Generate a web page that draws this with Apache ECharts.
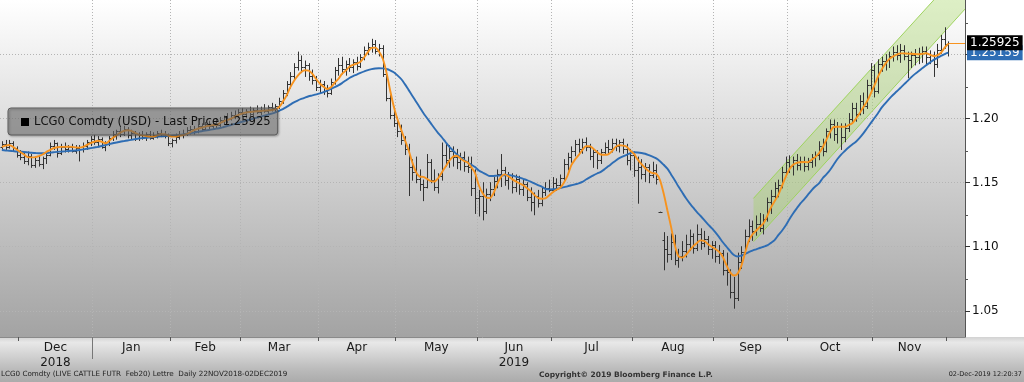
<!DOCTYPE html>
<html><head><meta charset="utf-8">
<script src="https://cdn.jsdelivr.net/npm/echarts@6/dist/echarts.min.js"></script>
<style>html,body{margin:0;padding:0;background:#fff}#c{width:1024px;height:382px}</style>
</head><body><div id="c"></div>
<script>
// ---- data ----
const monthNames = ['Nov','Dec','Jan','Feb','Mar','Apr','May','Jun','Jul','Aug','Sep','Oct','Nov','Dec'];
const monthYears = ['', '2018', '', '', '', '', '', '2019', '', '', '', '', '', ''];
const monthBars  = [5,20,21,19,21,21,22,20,22,22,20,23,20,1];
const slotCount = 261;

const opens = [
1.178,1.180,1.178,1.181,1.177,1.172,1.170,1.167,1.171,1.164,
1.168,1.165,1.169,1.172,1.179,1.181,1.173,1.178,1.176,1.178,
1.175,1.177,1.176,1.179,1.182,1.184,1.182,1.184,1.178,1.180,
1.185,1.188,1.190,1.188,1.192,1.187,1.189,1.185,1.187,1.186,
1.188,1.185,1.187,1.189,1.188,1.187,1.181,1.183,1.186,1.188,
1.189,1.191,1.192,1.190,1.194,1.192,1.196,1.194,1.197,1.195,
1.199,1.201,1.200,1.203,1.202,1.205,1.204,1.206,1.204,1.207,
1.205,1.207,1.206,1.209,1.208,1.210,1.214,1.220,1.227,1.233,
1.240,1.246,1.240,1.242,1.233,1.230,1.225,1.227,1.222,1.220,
1.229,1.238,1.242,1.239,1.243,1.240,1.244,1.241,1.248,1.254,
1.256,1.258,1.253,1.255,1.235,1.216,1.203,1.197,1.190,1.183,
1.176,1.162,1.158,1.153,1.149,1.147,1.166,1.152,1.147,1.155,
1.172,1.168,1.175,1.170,1.166,1.170,1.163,1.162,1.146,1.138,
1.140,1.128,1.141,1.145,1.151,1.157,1.160,1.152,1.156,1.147,
1.153,1.145,1.149,1.139,1.135,1.140,1.134,1.143,1.146,1.144,
1.150,1.148,1.154,1.165,1.170,1.175,1.180,1.176,1.182,1.178,
1.171,1.174,1.168,1.174,1.178,1.176,1.181,1.179,1.182,1.176,
1.168,1.172,1.160,1.162,1.157,1.162,1.156,1.160,1.127,1.105,
1.098,1.094,1.104,1.090,1.093,1.097,1.102,1.108,1.099,1.110,
1.103,1.106,1.098,1.101,1.093,1.095,1.082,1.080,1.065,1.060,
1.088,1.096,1.108,1.116,1.112,1.118,1.115,1.122,1.135,1.140,
1.146,1.148,1.158,1.166,1.163,1.168,1.164,1.167,1.163,1.166,
1.170,1.172,1.179,1.175,1.190,1.196,1.188,1.194,1.186,1.193,
1.200,1.208,1.204,1.214,1.210,1.226,1.238,1.222,1.243,1.245,
1.246,1.249,1.252,1.250,1.254,1.249,1.246,1.250,1.248,1.251,
1.253,1.248,1.250,1.243,1.254,1.262,1.258];

const highs = [
1.182,1.183,1.183,1.182,1.178,1.175,1.173,1.174,1.172,1.170,
1.171,1.170,1.173,1.181,1.183,1.181,1.180,1.181,1.179,1.180,
1.179,1.179,1.181,1.183,1.186,1.187,1.186,1.185,1.182,1.186,
1.190,1.191,1.193,1.194,1.193,1.191,1.190,1.189,1.190,1.189,
1.190,1.189,1.190,1.191,1.190,1.188,1.184,1.188,1.190,1.191,
1.193,1.194,1.194,1.195,1.196,1.197,1.198,1.199,1.200,1.201,
1.202,1.204,1.205,1.206,1.207,1.208,1.207,1.209,1.208,1.210,
1.209,1.211,1.210,1.212,1.211,1.216,1.222,1.229,1.236,1.243,
1.252,1.249,1.245,1.243,1.238,1.233,1.230,1.229,1.226,1.231,
1.240,1.247,1.248,1.245,1.247,1.246,1.248,1.250,1.256,1.259,
1.262,1.261,1.258,1.257,1.237,1.218,1.209,1.201,1.195,1.186,
1.180,1.168,1.170,1.160,1.152,1.172,1.168,1.160,1.157,1.181,
1.180,1.179,1.178,1.176,1.173,1.174,1.170,1.170,1.160,1.144,
1.150,1.145,1.150,1.154,1.160,1.172,1.162,1.158,1.157,1.156,
1.155,1.152,1.150,1.146,1.142,1.144,1.146,1.150,1.152,1.154,
1.153,1.156,1.168,1.173,1.178,1.183,1.184,1.184,1.185,1.180,
1.176,1.175,1.176,1.181,1.183,1.184,1.184,1.183,1.184,1.180,
1.176,1.174,1.170,1.168,1.165,1.164,1.166,1.164,1.127,1.111,
1.108,1.110,1.109,1.098,1.104,1.109,1.113,1.110,1.117,1.114,
1.112,1.108,1.104,1.104,1.101,1.097,1.095,1.082,1.076,1.095,
1.100,1.113,1.121,1.120,1.124,1.126,1.125,1.138,1.144,1.150,
1.152,1.162,1.170,1.171,1.170,1.172,1.170,1.170,1.169,1.172,
1.174,1.182,1.184,1.192,1.199,1.199,1.197,1.196,1.196,1.204,
1.212,1.212,1.218,1.220,1.230,1.243,1.242,1.246,1.248,1.250,
1.252,1.256,1.257,1.258,1.257,1.252,1.252,1.254,1.255,1.256,
1.256,1.253,1.252,1.258,1.265,1.271,1.260];

const lows = [
1.176,1.176,1.177,1.175,1.170,1.168,1.165,1.164,1.162,1.162,
1.163,1.161,1.165,1.171,1.176,1.170,1.172,1.174,1.174,1.174,
1.173,1.167,1.174,1.176,1.179,1.180,1.178,1.177,1.175,1.179,
1.183,1.184,1.186,1.187,1.185,1.184,1.183,1.183,1.184,1.183,
1.184,1.184,1.185,1.186,1.185,1.179,1.178,1.181,1.184,1.185,
1.187,1.188,1.188,1.189,1.190,1.191,1.192,1.192,1.193,1.194,
1.196,1.197,1.199,1.200,1.201,1.202,1.201,1.202,1.202,1.204,
1.203,1.205,1.204,1.206,1.205,1.208,1.212,1.218,1.224,1.230,
1.238,1.236,1.233,1.230,1.227,1.222,1.220,1.219,1.217,1.219,
1.227,1.234,1.235,1.234,1.237,1.236,1.238,1.240,1.246,1.250,
1.252,1.251,1.249,1.233,1.214,1.200,1.194,1.186,1.180,1.172,
1.140,1.152,1.150,1.144,1.136,1.146,1.150,1.144,1.142,1.152,
1.163,1.162,1.163,1.161,1.160,1.159,1.158,1.140,1.126,1.124,
1.121,1.126,1.136,1.140,1.146,1.147,1.148,1.145,1.142,1.143,
1.141,1.140,1.136,1.128,1.125,1.131,1.132,1.140,1.143,1.143,
1.144,1.146,1.152,1.160,1.166,1.171,1.172,1.173,1.175,1.168,
1.162,1.161,1.165,1.172,1.173,1.174,1.175,1.174,1.173,1.164,
1.160,1.155,1.134,1.153,1.151,1.150,1.154,1.149,1.127,1.082,
1.088,1.090,1.086,1.084,1.089,1.092,1.097,1.095,1.097,1.098,
1.100,1.094,1.091,1.088,1.087,1.078,1.070,1.060,1.052,1.058,
1.083,1.094,1.104,1.105,1.109,1.112,1.110,1.120,1.126,1.138,
1.139,1.146,1.156,1.158,1.156,1.160,1.160,1.159,1.160,1.162,
1.163,1.168,1.171,1.174,1.185,1.183,1.181,1.176,1.182,1.190,
1.197,1.198,1.203,1.204,1.208,1.222,1.217,1.220,1.237,1.238,
1.240,1.245,1.246,1.244,1.246,1.232,1.240,1.242,1.243,1.244,
1.242,1.243,1.233,1.240,1.251,1.255,1.249];

const closes = [
1.180,1.178,1.181,1.177,1.172,1.170,1.167,1.171,1.164,1.168,
1.165,1.169,1.172,1.179,1.181,1.173,1.178,1.176,1.178,1.175,
1.177,1.176,1.179,1.182,1.184,1.182,1.184,1.178,1.180,1.185,
1.188,1.190,1.188,1.192,1.187,1.189,1.185,1.187,1.186,1.188,
1.185,1.187,1.189,1.188,1.187,1.181,1.183,1.186,1.188,1.189,
1.191,1.192,1.190,1.194,1.192,1.196,1.194,1.197,1.195,1.199,
1.201,1.200,1.203,1.202,1.205,1.204,1.206,1.204,1.207,1.205,
1.207,1.206,1.209,1.208,1.210,1.214,1.220,1.227,1.233,1.240,
1.246,1.240,1.242,1.233,1.230,1.225,1.227,1.222,1.220,1.229,
1.238,1.242,1.239,1.243,1.240,1.244,1.241,1.248,1.254,1.256,
1.258,1.253,1.255,1.235,1.216,1.203,1.197,1.190,1.183,1.176,
1.162,1.158,1.153,1.149,1.147,1.166,1.152,1.147,1.155,1.172,
1.168,1.175,1.170,1.166,1.170,1.163,1.162,1.146,1.138,1.140,
1.128,1.141,1.145,1.151,1.157,1.160,1.152,1.156,1.147,1.153,
1.145,1.149,1.139,1.135,1.140,1.134,1.143,1.146,1.144,1.150,
1.148,1.154,1.165,1.170,1.175,1.180,1.176,1.182,1.178,1.171,
1.174,1.168,1.174,1.178,1.176,1.181,1.179,1.182,1.176,1.168,
1.172,1.160,1.162,1.157,1.162,1.156,1.160,1.153,1.127,1.098,
1.094,1.104,1.090,1.093,1.097,1.102,1.108,1.099,1.110,1.103,
1.106,1.098,1.101,1.093,1.095,1.082,1.080,1.065,1.060,1.088,
1.096,1.108,1.116,1.112,1.118,1.115,1.122,1.135,1.140,1.146,
1.148,1.158,1.166,1.163,1.168,1.164,1.167,1.163,1.166,1.170,
1.172,1.179,1.175,1.190,1.196,1.188,1.194,1.186,1.193,1.200,
1.208,1.204,1.214,1.210,1.226,1.238,1.222,1.243,1.245,1.246,
1.249,1.252,1.250,1.254,1.249,1.246,1.250,1.248,1.251,1.253,
1.248,1.250,1.243,1.254,1.262,1.258,1.25925];

// orange (short) moving average
const maShort = [
1.178,1.179,1.1795,1.178,1.176,1.174,1.172,1.170,1.1698,1.170,
1.1708,1.172,1.174,1.1755,1.177,1.1777,1.178,1.178,1.1781,1.178,
1.1776,1.1774,1.178,1.1795,1.181,1.182,1.1828,1.182,1.1808,1.1825,
1.185,1.187,1.189,1.1905,1.191,1.1905,1.189,1.1875,1.187,1.1865,
1.186,1.186,1.187,1.1878,1.1878,1.187,1.186,1.186,1.1868,1.1873,
1.188,1.1895,1.191,1.1922,1.193,1.1938,1.1945,1.195,1.1951,1.1965,
1.198,1.199,1.200,1.2015,1.203,1.204,1.2048,1.2052,1.2055,1.2058,
1.206,1.2063,1.2065,1.2068,1.2075,1.209,1.2133,1.218,1.2245,1.2295,
1.2335,1.2365,1.2378,1.2375,1.235,1.231,1.2275,1.225,1.2232,1.2245,
1.228,1.231,1.235,1.2375,1.2405,1.242,1.243,1.2445,1.248,1.252,
1.2553,1.2555,1.2525,1.247,1.2365,1.2224,1.2095,1.1995,1.1915,1.1835,
1.1755,1.166,1.1585,1.1548,1.1545,1.153,1.1512,1.151,1.1535,1.158,
1.1625,1.167,1.1703,1.171,1.169,1.167,1.1658,1.162,1.1575,1.148,
1.142,1.1385,1.138,1.142,1.149,1.1545,1.1565,1.155,1.1528,1.151,
1.1495,1.148,1.1458,1.1435,1.1405,1.1382,1.1375,1.1378,1.140,1.1425,
1.1445,1.146,1.150,1.1555,1.1635,1.168,1.1715,1.1755,1.1785,1.1785,
1.1765,1.174,1.172,1.1718,1.1722,1.1745,1.178,1.1793,1.179,1.1781,
1.175,1.1725,1.168,1.1645,1.1615,1.159,1.1575,1.157,1.152,1.1415,
1.1285,1.1155,1.1015,1.0925,1.0915,1.0935,1.097,1.1005,1.103,1.105,
1.1045,1.102,1.100,1.0982,1.096,1.092,1.0855,1.080,1.0775,1.079,
1.085,1.095,1.1045,1.1095,1.1125,1.1155,1.1183,1.124,1.1305,1.1355,
1.1405,1.1475,1.1545,1.1605,1.164,1.1655,1.166,1.1662,1.166,1.168,
1.170,1.173,1.1775,1.1835,1.1895,1.1935,1.1937,1.1937,1.1937,1.195,
1.1964,1.200,1.2042,1.209,1.2135,1.2195,1.226,1.233,1.2385,1.243,
1.2465,1.2485,1.250,1.251,1.251,1.2508,1.2507,1.2505,1.2503,1.2507,
1.2511,1.250,1.249,1.2495,1.2515,1.2555,1.2585];

// blue (long) moving average
const maLong = [
1.1755,1.1752,1.175,1.1747,1.1744,1.1742,1.174,1.1737,1.1734,1.1732,
1.173,1.173,1.1732,1.1735,1.1738,1.1741,1.1743,1.1745,1.1748,1.175,
1.1752,1.1755,1.176,1.1765,1.177,1.1775,1.178,1.1787,1.1794,1.1801,
1.1808,1.1814,1.182,1.1825,1.183,1.1835,1.184,1.1845,1.1848,1.185,
1.1853,1.1856,1.1859,1.1862,1.1864,1.1866,1.1868,1.187,1.1873,1.1877,
1.1882,1.1887,1.1892,1.1897,1.1902,1.1907,1.1912,1.1917,1.1922,1.1927,
1.1935,1.1943,1.1951,1.196,1.1968,1.1976,1.1984,1.1992,1.200,1.2008,
1.2016,1.2024,1.2032,1.204,1.205,1.2062,1.2075,1.2092,1.211,1.2128,
1.2142,1.2154,1.2165,1.2175,1.2182,1.219,1.2198,1.2208,1.222,1.2233,
1.2246,1.226,1.2278,1.2298,1.2318,1.2333,1.2345,1.2358,1.237,1.238,
1.2387,1.2392,1.2394,1.2393,1.2388,1.2378,1.2362,1.2338,1.231,1.227,
1.2225,1.218,1.2135,1.209,1.2045,1.2005,1.1965,1.1925,1.1888,1.1855,
1.1818,1.1782,1.1752,1.1722,1.1698,1.1677,1.1658,1.164,1.1622,1.1595,
1.158,1.1565,1.1552,1.1553,1.1555,1.1556,1.1558,1.156,1.1555,1.1548,
1.154,1.153,1.152,1.1508,1.1495,1.1482,1.147,1.1452,1.1448,1.1449,
1.1451,1.1458,1.1465,1.1472,1.148,1.1487,1.1495,1.1506,1.1525,1.1542,
1.1558,1.1572,1.1585,1.1605,1.1628,1.165,1.1672,1.1692,1.1705,1.1718,
1.1731,1.1738,1.1736,1.1732,1.1726,1.1715,1.1703,1.169,1.1668,1.164,
1.161,1.1565,1.152,1.147,1.1425,1.138,1.134,1.1305,1.127,1.124,
1.1208,1.1175,1.1145,1.1112,1.1075,1.1035,1.100,1.0965,1.0935,1.0924,
1.093,1.0943,1.0958,1.097,1.098,1.099,1.100,1.101,1.103,1.1052,
1.109,1.1125,1.1165,1.1215,1.126,1.130,1.1338,1.137,1.1405,1.144,
1.147,1.1495,1.1535,1.1565,1.1599,1.1642,1.1685,1.172,1.1748,1.1775,
1.1798,1.182,1.185,1.1885,1.1925,1.1965,1.2005,1.2045,1.2088,1.2122,
1.2155,1.2185,1.2212,1.224,1.2268,1.2295,1.2325,1.235,1.2372,1.2395,
1.2418,1.2438,1.2459,1.2475,1.249,1.2505,1.2516];

// trend channel (bar index, upper, lower)
const channelX = [203.3, 260.5];
const channelUpper = [1.1378, 1.3195];
const channelLower = [1.1039, 1.2856];

const lastPrice = 1.25925;
const lastLong = 1.25159;
const yLabelValues = [1.05, 1.10, 1.15, 1.20];
const yMajorTicks = [1.05, 1.10, 1.15, 1.20, 1.25];
const yMinorTicks = [1.075, 1.125, 1.175, 1.225, 1.275];
const yMin = 1.0295, yMax = 1.2927;
const legendName = 'LCG0 Comdty (USD) - Last Price 1.25925';
const footerLeft = 'LCG0 Comdty (LIVE CATTLE FUTR  Feb20) Lettre  Daily 22NOV2018-02DEC2019';
const footerMid = 'Copyright\u00A9 2019 Bloomberg Finance L.P.';
const footerRight = '02-Dec-2019 12:20:37';

// ---- derived layout helpers ----
const GRID = {left: 0, right: 59, top: 0, bottom: 45};
const W = 1024, H = 382;
const gridH = H - GRID.top - GRID.bottom;
const monthStart = [];
{ let s = 0; monthBars.forEach(n => { monthStart.push(s); s += n; }); }
const boundaryTicks = monthStart.slice(1).map(s => s - 0.5);
const labelVals = [], labelText = {};
for (let m = 1; m < monthNames.length - 1; m++) {
  const v = monthStart[m] + (monthBars[m] - 1) / 2;
  labelVals.push(v);
  labelText[String(v)] = monthNames[m] + (monthYears[m] ? '\n' + monthYears[m] : '');
}
const yearBreak = [monthStart[2] - 0.5];

const barData = opens.map((o, i) => [i, o, highs[i], lows[i], closes[i]]);
const shortData = maShort.map((v, i) => [i, v]);
const longData = maLong.map((v, i) => [i, v]);
const lastIdx = closes.length - 1;
const xMax = slotCount - 0.5;
const minorTickData = yMinorTicks.map(v => [xMax, v]);

const FONT = 'DejaVu Sans';
const chart = echarts.init(document.getElementById('c'), null, {renderer: 'canvas'});
chart.setOption({
  animation: false,
  backgroundColor: '#ffffff',
  grid: {
    left: GRID.left, right: GRID.right, top: GRID.top, bottom: GRID.bottom, show: true,
    borderWidth: 0, borderColor: 'rgba(0,0,0,0)',
    backgroundColor: {type: 'linear', x: 0, y: 0, x2: 0, y2: 1,
      colorStops: [{offset: 0, color: '#ffffff'}, {offset: 1, color: '#a3a3a3'}]}
  },
  legend: {
    data: [{name: legendName, icon: 'rect'}], z: 20,
    left: 8, top: 108, itemWidth: 8, itemHeight: 8,
    padding: [8, 7, 7, 13], selectedMode: false,
    backgroundColor: 'rgba(115,115,115,0.5)', borderColor: '#5c5c5c', borderWidth: 1, borderRadius: 3,
    shadowColor: 'rgba(0,0,0,0.35)', shadowBlur: 2, shadowOffsetX: 1, shadowOffsetY: 1,
    textStyle: {fontFamily: FONT, fontSize: 11.6, color: '#111'}
  },
  xAxis: [{
    type: 'value', min: -0.5, max: xMax, position: 'bottom',
    axisLine: {show: true, onZero: false, lineStyle: {color: '#8a8a8a'}},
    axisTick: {show: true, customValues: boundaryTicks, length: 4, lineStyle: {color: '#555'}},
    axisLabel: {show: true, customValues: labelVals, margin: 3, lineHeight: 15,
      fontFamily: FONT, fontSize: 12, color: '#1a1a1a',
      formatter: v => labelText[String(v)] || ''},
    splitLine: {show: true, showMinLine: false, showMaxLine: false,
      lineStyle: {color: '#b4b4b4', type: [1, 2], width: 1}}
  }, {
    type: 'value', min: -0.5, max: xMax, position: 'top', offset: -gridH,
    axisLine: {show: false, onZero: false}, axisLabel: {show: false}, splitLine: {show: false},
    axisTick: {show: true, inside: true, customValues: yearBreak, length: 22, lineStyle: {color: '#777'}}
  }],
  yAxis: {
    type: 'value', position: 'right', min: yMin, max: yMax,
    axisLine: {show: true, onZero: false, lineStyle: {color: '#555'}},
    axisTick: {show: true, customValues: yMajorTicks, length: 5, lineStyle: {color: '#333'}},
    axisLabel: {show: true, customValues: yLabelValues, margin: 7, fontFamily: FONT, fontSize: 12,
      color: '#111', formatter: v => v.toFixed(2)},
    splitLine: {show: true, lineStyle: {color: '#b4b4b4', type: [1, 2], width: 1}}
  },
  series: [
    {
      type: 'custom', name: 'channel', silent: true, clip: true, z: 1,
      data: [[channelX[0], channelUpper[0]]],
      renderItem: function (params, api) {
        const a = api.coord([channelX[0], channelUpper[0]]);
        const b = api.coord([channelX[1], channelUpper[1]]);
        const c = api.coord([channelX[1], channelLower[1]]);
        const d = api.coord([channelX[0], channelLower[0]]);
        return {type: 'group', children: [
          {type: 'polygon', shape: {points: [a, b, c, d]}, style: {fill: 'rgba(160,210,95,0.36)'}},
          {type: 'polyline', shape: {points: [a, b]}, style: {stroke: '#9ed35e', lineWidth: 1, fill: null}},
          {type: 'polyline', shape: {points: [d, c]}, style: {stroke: '#9ed35e', lineWidth: 1, fill: null}}
        ]};
      }
    },
    {
      type: 'custom', name: legendName, z: 2, silent: true,
      itemStyle: {color: '#000'},
      encode: {x: 0, y: [1, 2, 3, 4]},
      data: barData,
      renderItem: function (params, api) {
        const i = api.value(0);
        const pO = api.coord([i, api.value(1)]);
        const pH = api.coord([i, api.value(2)]);
        const pL = api.coord([i, api.value(3)]);
        const pC = api.coord([i, api.value(4)]);
        const x = Math.round(pH[0]) + 0.5;
        const st = {stroke: '#333', lineWidth: 1};
        const yo = Math.round(pO[1]) + 0.5, yc = Math.round(pC[1]) + 0.5;
        return {type: 'group', children: [
          {type: 'line', shape: {x1: x, y1: pH[1] - 0.5, x2: x, y2: pL[1] + 0.5}, style: st},
          {type: 'line', shape: {x1: x - 2, y1: yo, x2: x, y2: yo}, style: st},
          {type: 'line', shape: {x1: x, y1: yc, x2: x + 2, y2: yc}, style: st}
        ]};
      }
    },
    {
      type: 'line', name: 'long', data: longData, showSymbol: false, symbol: 'none', smooth: 0.3,
      silent: true, z: 3, lineStyle: {color: '#2e6db4', width: 1.9},
      markLine: {
        silent: true, symbol: ['none', 'none'], z: 5, animation: false,
        lineStyle: {color: 'rgba(0,0,0,0)', width: 0},
        label: {show: true, position: 'end', distance: 2, formatter: String(lastLong),
          color: '#fff', backgroundColor: '#2e6db4', padding: [2, 3, 1, 3], fontFamily: FONT, fontSize: 12},
        data: [[{coord: [lastIdx, lastLong]}, {coord: [xMax, lastLong]}]]
      }
    },
    {
      type: 'line', name: 'short', data: shortData, showSymbol: false, symbol: 'none', smooth: 0.3,
      silent: true, z: 4, lineStyle: {color: '#f7931e', width: 1.9},
      markLine: {
        silent: true, symbol: ['none', 'none'], z: 6, animation: false,
        lineStyle: {color: '#f7931e', width: 1, type: 'solid'},
        label: {show: true, position: 'end', distance: 2, formatter: String(lastPrice),
          color: '#fff', backgroundColor: '#000', padding: [2, 3, 1, 3], fontFamily: FONT, fontSize: 12},
        data: [[{coord: [lastIdx, lastPrice]}, {coord: [xMax, lastPrice]}]]
      }
    },
    {
      type: 'custom', name: 'minorTicks', silent: true, clip: false, z: 5,
      encode: {x: 0, y: 1}, data: minorTickData,
      renderItem: function (params, api) {
        const c = api.coord([api.value(0), api.value(1)]);
        const y = Math.round(c[1]) + 0.5;
        return {type: 'line', shape: {x1: c[0], y1: y, x2: c[0] + 3, y2: y}, style: {stroke: '#555', lineWidth: 1}};
      }
    }
  ],
  graphic: [
    {type: 'rect', left: 0, bottom: 0, z: -10, silent: true,
      shape: {width: W, height: GRID.bottom},
      style: {fill: {type: 'linear', x: 0, y: 0, x2: 0, y2: 1,
        colorStops: [{offset: 0, color: '#d2d2d2'}, {offset: 0.12, color: '#e8e8e8'},
                     {offset: 0.7, color: '#bcbcbc'}, {offset: 1, color: '#ababab'}]}}},
    {type: 'text', left: 1, top: 371, z: 10, silent: true,
      style: {text: footerLeft, fontFamily: FONT, fontSize: 7.2, fill: '#222'}},
    {type: 'text', left: 539, top: 371, z: 10, silent: true,
      style: {text: footerMid, fontFamily: FONT, fontSize: 7.5, fontWeight: 'bold', fill: '#333'}},
    {type: 'text', right: 2, top: 371, z: 10, silent: true,
      style: {text: footerRight, fontFamily: FONT, fontSize: 6.5, fill: '#222'}}
  ]
});
</script>
</body></html>
